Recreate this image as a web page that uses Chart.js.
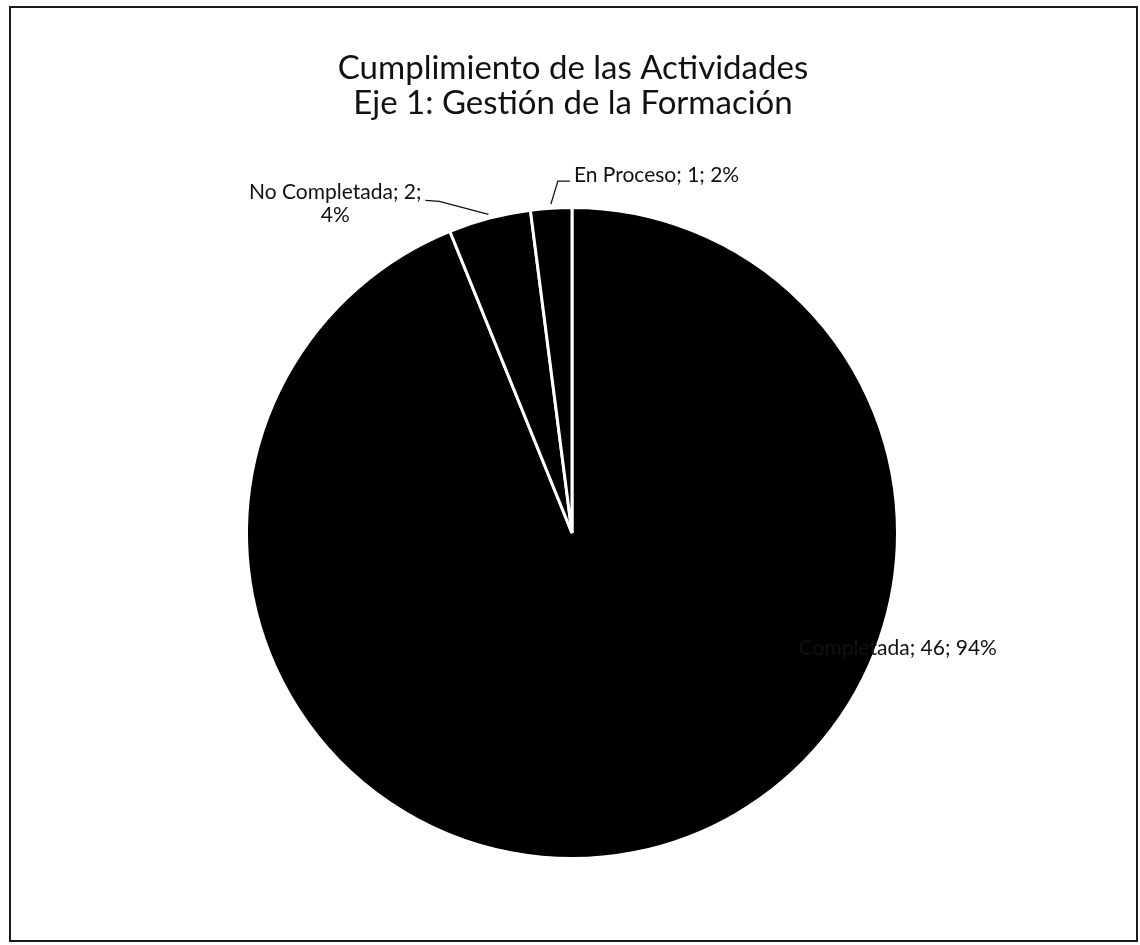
<!DOCTYPE html>
<html lang="es">
<head>
<meta charset="utf-8">
<title>Cumplimiento de las Actividades</title>
<script src="https://cdn.jsdelivr.net/npm/chart.js@4.4.1/dist/chart.umd.min.js"></script>
<style>
  html, body { margin: 0; padding: 0; background: #fff; }
  #wrap { position: relative; width: 1140px; height: 945px; }
  #frame {
    position: absolute; left: 9px; top: 6px; width: 1125px; height: 932px;
    border: 2px solid #1a1a1a; pointer-events: none;
  }
</style>
</head>
<body>
<div id="wrap">
  <canvas id="pieChart" width="1140" height="945"></canvas>
  <div id="frame"></div>
</div>
<script>
const titleLines = ['Cumplimiento de las Actividades', 'Eje 1: Gestión de la Formación'];
const categories = ['Completada', 'No Completada', 'En Proceso'];
const counts = [46, 2, 1];

const total = counts.reduce((a, b) => a + b, 0);
const percents = counts.map(v => Math.round(v / total * 100));

// where each data label sits, relative to the slice's outer edge at mid angle
const labelStyle = [
  { mode: 'polar', angle: 19.5, dist: 1.062, lines: i => [`${categories[i]}; ${counts[i]}; ${percents[i]}%`] },
  { mode: 'leader', dx: -67, dy: -14, align: 'right', lines: i => [`${categories[i]}; ${counts[i]};`, `${percents[i]}%`] },
  { mode: 'leader', dx: 23, dy: -29, align: 'left', lines: i => [`${categories[i]}; ${counts[i]}; ${percents[i]}%`] }
];

const FONT = 'Lato, "Open Sans", sans-serif';

const excelLabels = {
  id: 'excelLabels',
  afterDatasetsDraw(chart) {
    const ctx = chart.ctx;
    const arcs = chart.getDatasetMeta(0).data;
    ctx.save();
    ctx.font = `21px ${FONT}`;
    ctx.fillStyle = '#111';
    ctx.strokeStyle = '#111';
    ctx.lineWidth = 1.3;
    ctx.textBaseline = 'middle';
    arcs.forEach((arc, i) => {
      const p = arc.getProps(['x', 'y', 'startAngle', 'endAngle', 'outerRadius'], true);
      const mid = (p.startAngle + p.endAngle) / 2;
      const st = labelStyle[i];
      const lines = st.lines(i);
      if (st.mode === 'polar') {
        const a = st.angle * Math.PI / 180;
        const cx = p.x + Math.cos(a) * p.outerRadius * st.dist;
        const cy = p.y + Math.sin(a) * p.outerRadius * st.dist;
        ctx.textAlign = 'center';
        lines.forEach((t, k) => ctx.fillText(t, cx, cy + (k - (lines.length - 1) / 2) * 23));
        return;
      }
      const ex = p.x + Math.cos(mid) * (p.outerRadius + 4);
      const ey = p.y + Math.sin(mid) * (p.outerRadius + 4);
      const tx = ex + st.dx;
      const ty = ey + st.dy;
      ctx.beginPath();
      if (st.align === 'right') {
        const w1 = ctx.measureText(lines[0]).width;
        ctx.moveTo(tx + 4, ty);
        ctx.lineTo(tx + 18, ty + 1);
        ctx.lineTo(ex, ey);
        ctx.stroke();
        ctx.textAlign = 'center';
        const c = tx - w1 / 2;
        ctx.fillText(lines[0], c, ty - 8);
        ctx.fillText(lines[1], c, ty + 15);
      } else {
        ctx.moveTo(ex, ey);
        ctx.lineTo(ex + 7, ty + 6);
        ctx.lineTo(tx - 4, ty + 6);
        ctx.stroke();
        ctx.textAlign = 'left';
        ctx.fillText(lines[0], tx, ty);
      }
    });
    ctx.restore();
  }
};

const titleLinesPlugin = {
  id: 'titleLines',
  afterDraw(chart) {
    const ctx = chart.ctx;
    ctx.save();
    ctx.font = `33px ${FONT}`;
    ctx.fillStyle = '#111';
    ctx.textAlign = 'center';
    ctx.textBaseline = 'middle';
    const cx = (chart.chartArea.left + chart.chartArea.right) / 2 + 1;
    titleLines.forEach((t, k) => ctx.fillText(t, cx, 68 + k * 35));
    ctx.restore();
  }
};

new Chart(document.getElementById('pieChart'), {
  type: 'pie',
  data: {
    labels: categories,
    datasets: [{
      data: counts,
      backgroundColor: '#000',
      borderColor: '#fff',
      borderWidth: 3,
      hoverOffset: 0
    }]
  },
  options: {
    responsive: false,
    animation: false,
    layout: { padding: { left: 245, right: 241, top: 206, bottom: 85 } },
    plugins: {
      legend: { display: false },
      title: { display: false },
      tooltip: { enabled: false }
    }
  },
  plugins: [excelLabels, titleLinesPlugin]
});
</script>
</body>
</html>
